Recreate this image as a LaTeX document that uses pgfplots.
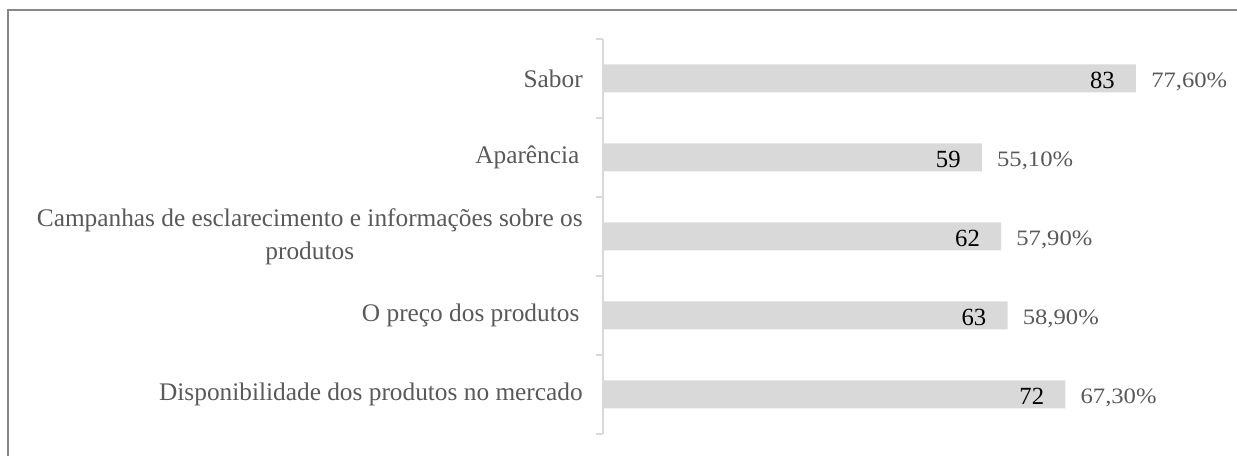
\documentclass[border=0pt]{standalone}
\usepackage{pgfplots}
\pgfplotsset{compat=1.18}
\usepackage{pgfplotstable}
\usepackage{fontspec}
\setmainfont{Liberation Serif}
\newfontfamily\pctfont{Liberation Serif}[FakeStretch=1.12]

\definecolor{barfill}{RGB}{217,217,217}
\definecolor{labelgray}{RGB}{89,89,89}
\definecolor{framegray}{RGB}{135,135,135}
\definecolor{axisgray}{RGB}{217,217,217}

% pos: 5 = top row
\pgfplotstableread{
pos val pct
5 83 77,60
4 59 55,10
3 62 57,90
2 63 58,90
1 72 67,30
}\itemdata

\begin{document}
\begin{tikzpicture}
\useasboundingbox (0,0) rectangle (927.75pt,342pt);
% outer frame (only top and left edges visible)
\draw[framegray,line width=1.5pt] (5.9pt,-2pt) -- (5.9pt,334.5pt) -- (930pt,334.5pt);

\begin{axis}[
    at={(452.25pt,16.5pt)}, anchor=south west,
    scale only axis,
    width=399.75pt, height=296.25pt,
    xmin=0, xmax=83, ymin=0.5, ymax=5.5,
    axis x line=none,
    axis y line*=left,
    axis line style={axisgray,line width=0.8pt},
    clip=false,
    ytick={1,2,3,4,5},
    yticklabels={
      Disponibilidade dos produtos no mercado,
      O preço dos produtos\hspace{2.5pt},
      {Campanhas de esclarecimento e informações sobre os\\produtos},
      Aparência\hspace{2.5pt},
      Sabor},
    major tick length=0pt,
    extra y ticks={0.5,1.5,2.5,3.5,4.5,5.5},
    extra y tick labels={},
    extra y tick style={major tick length=5.25pt, tick align=outside,
      tick style={axisgray,line width=0.8pt}},
    yticklabel style={align=center, labelgray, inner sep=0pt, xshift=-15pt,
      font=\fontsize{19}{25}\selectfont},
  ]
  \addplot[xbar, bar width=21pt, fill=barfill, draw=none,
    point meta=explicit symbolic,
    nodes near coords={\pgfplotspointmeta},
    nodes near coords style={anchor=base east, inner sep=0pt, xshift=-15.75pt,
      yshift=-7.5pt, black, font=\fontsize{18.5}{22}\selectfont},
  ] table[x=val, y=pos, meta=val] {\itemdata};
  \addplot[draw=none, mark=none,
    point meta=explicit symbolic,
    nodes near coords={\pgfplotspointmeta\%},
    nodes near coords style={anchor=base west, inner sep=0pt, xshift=11.25pt,
      yshift=-6.8pt, labelgray, font=\pctfont\fontsize{16.5}{20}\selectfont},
  ] table[x=val, y=pos, meta=pct] {\itemdata};
\end{axis}
\end{tikzpicture}
\end{document}
